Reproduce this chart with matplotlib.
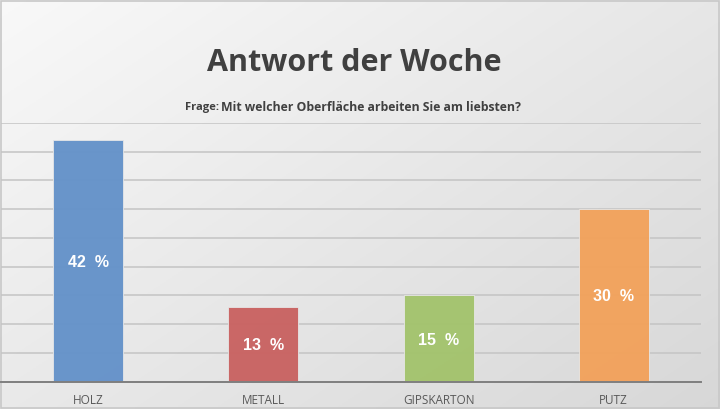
import numpy as np
import matplotlib.pyplot as plt

categories = ["HOLZ", "METALL", "GIPSKARTON", "PUTZ"]
values = [42, 13, 15, 30]
colors = ["#6592c9", "#c96362", "#a3c36d", "#f2a25c"]

title = "Antwort der Woche"
question_prefix = "Frage:"
question = "Mit welcher Oberfläche arbeiten Sie am liebsten?"

fig = plt.figure(figsize=(7.2, 4.09), dpi=100)

# background gradient, white top-left to light gray bottom-right
bg = fig.add_axes([0, 0, 1, 1], zorder=-1)
yy, xx = np.mgrid[0:1:200j, 0:1:360j]
shade = 0.975 - 0.07 * xx - 0.06 * yy
img = np.dstack([shade, shade, shade])
bg.imshow(img, aspect="auto", extent=[0, 1, 0, 1], origin="upper")
bg.set_xlim(0, 1)
bg.set_ylim(0, 1)
bg.axis("off")
bg.add_patch(plt.Rectangle((0.001, 0.002), 0.997, 0.995, fill=False, edgecolor="#c8c8c8", lw=1.2))

ax = fig.add_axes([0.001, 0.0667, 0.973, 0.633])
ax.patch.set_alpha(0)
x = np.arange(len(categories))
bars = ax.bar(x, values, width=0.4, color=colors, alpha=0.97, zorder=3,
              edgecolor="#e8e8e8", linewidth=0.6)

ax.set_xlim(-0.5, len(categories) - 0.5)
ax.set_ylim(0, 45)
ax.set_yticks(np.arange(0, 46, 5))
ax.yaxis.grid(True, color="#c4c4c4", lw=1.1, zorder=0)
ax.tick_params(axis="y", left=False, labelleft=False)
ax.tick_params(axis="x", bottom=False, pad=5)
ax.set_xticks(x)
ax.set_xticklabels(categories, fontsize=8.5, color="#595959", family="Open Sans")
for s in ["left", "right", "top"]:
    ax.spines[s].set_visible(False)
ax.spines["bottom"].set_color("#7f7f7f")
ax.spines["bottom"].set_linewidth(1.4)
ax.spines["bottom"].set_zorder(4)

for b, v in zip(bars, values):
    ax.text(b.get_x() + b.get_width() / 2, v / 2, f"{v}  %", ha="center", va="center_baseline",
            color="white", fontsize=11.5, fontweight="bold", family="Liberation Sans", zorder=5)

fig.text(0.492, 0.847, title, ha="center", va="center", fontsize=22, fontweight="bold",
         color="#404040", family="Open Sans")
fig.text(0.257, 0.738, question_prefix, ha="left", va="center", fontsize=8,
         fontweight="bold", color="#404040", family="Open Sans")
fig.text(0.307, 0.738, question, ha="left", va="center", fontsize=8.8,
         fontweight="bold", color="#404040", family="Open Sans")

fig.savefig("out.png", dpi=100)
